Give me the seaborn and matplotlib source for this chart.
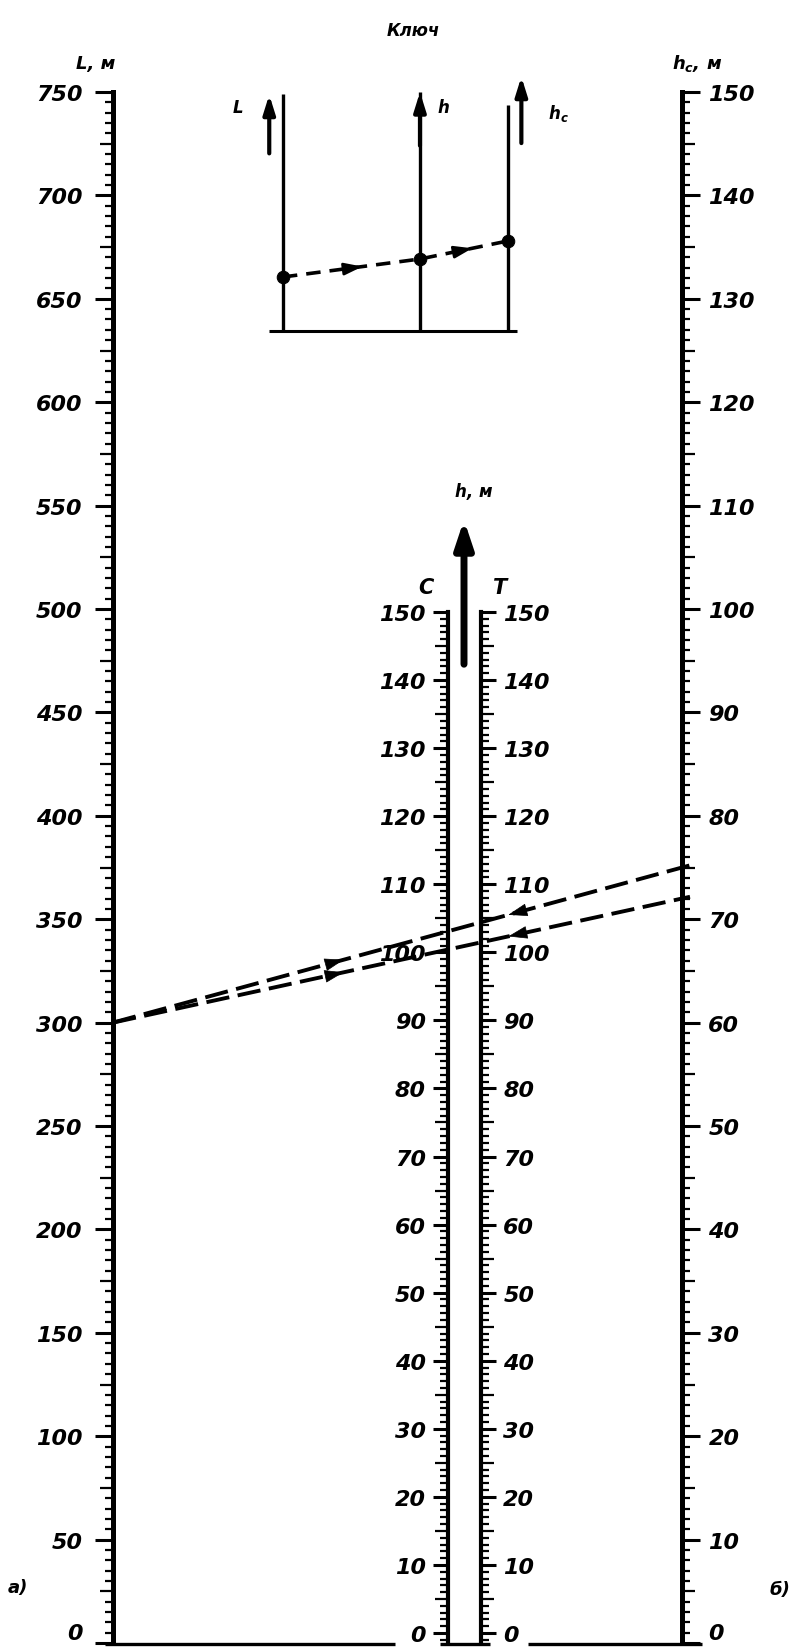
import matplotlib
matplotlib.use('Agg')
import matplotlib.pyplot as plt
import seaborn as sns
import pandas as pd
from matplotlib.ticker import FixedLocator, MultipleLocator

sns.set_style('white')
plt.rcParams['font.family'] = ['DejaVu Sans']
plt.rcParams['font.style'] = 'italic'
plt.rcParams['font.weight'] = 'bold'
plt.rcParams['text.color'] = 'black'

W, H = 797, 1649

# SCALES OF THE NOMOGRAM
L_ticks = list(range(0, 751, 50))      # left scale, L, m
hc_ticks = list(range(0, 151, 10))     # right scale, hc, m
h_ticks = list(range(0, 151, 10))      # middle scales C and T, h, m

# WORKED EXAMPLE: L = 300 m with two hc values
example_L = [300, 300]
example_hc = [75, 72]

# KEY SKETCH
key_names = ['L', 'h', 'h$_c$']
key_pos = [0.0, 1.0, 1.64]
key_pts = [0.21, 0.28, 0.35]
key_top = [0.92, 0.93, 0.88]

fig = plt.figure(figsize=(W / 100, H / 100), dpi=100)

# overlay in pixel units for text and connecting lines
ax0 = fig.add_axes([0, 0, 1, 1])
ax0.set_xlim(0, W)
ax0.set_ylim(H, 0)
ax0.axis('off')


def px_axes(x, top, bottom, width=0.5):
    return fig.add_axes([x / W, 1 - bottom / H, width / W, (bottom - top) / H])


def scale_axis(x, top, bottom, lim, major, minor, mid, side, lw=3.6, maj_len=13, pad=7):
    ax = px_axes(x if side == 'left' else x - 0.5, top, bottom)
    ax.set_ylim(*lim)
    ax.set_xticks([])
    ax.patch.set_visible(False)
    for s in ax.spines.values():
        s.set_visible(False)
    ax.spines[side].set_visible(True)
    ax.spines[side].set_linewidth(lw)
    ax.spines[side].set_color('k')
    ax.yaxis.set_ticks_position(side)
    ax.yaxis.set_major_locator(FixedLocator(major))
    ax.yaxis.set_minor_locator(MultipleLocator(minor))
    ax.tick_params(axis='y', which='major', direction='out', length=maj_len, width=2.2,
                   pad=pad, labelsize=16, colors='k')
    ax.tick_params(axis='y', which='minor', direction='out', length=6, width=1.6, colors='k')
    ax.set_yticklabels([str(v) for v in major])
    # medium ticks
    locs = ax.yaxis.get_minorticklocs()
    for loc, t in zip(locs, ax.yaxis.get_minor_ticks(len(locs))):
        if abs(loc % mid) < 1e-6 or abs(loc % mid - mid) < 1e-6:
            t.tick1line.set_markersize(9.5)
            t.tick2line.set_markersize(9.5)
    return ax


axL = scale_axis(113, 93, 1644, (0, 750), L_ticks, 5, 25, 'left', pad=9)
axR = scale_axis(682, 93, 1644, (0, 150), hc_ticks, 1, 5, 'right', pad=6)
axC = scale_axis(448, 613, 1644, (-1.47, 150), h_ticks, 1, 5, 'left', lw=3, maj_len=11, pad=5)
axT = scale_axis(481, 613, 1644, (-1.47, 150), h_ticks, 1, 5, 'right', lw=3, maj_len=11, pad=5)
for ax in (axL, axR):
    ax.get_yticklabels()[0].set_va('bottom')

# bottom base line
for x1, x2 in [(105, 395), (440, 490), (528, 702)]:
    ax0.plot([x1, x2], [1645, 1645], color='k', lw=2.4, solid_capstyle='butt')


def to_px(ax, xd, yd):
    return ax0.transData.inverted().transform(ax.transData.transform((xd, yd)))


# connecting lines of the example
for Lv, hv in zip(example_L, example_hc):
    p1 = to_px(axL, 0, Lv)
    p2 = to_px(axR, 1, hv)
    ax0.plot([p1[0], p2[0] + 8], [p1[1], p2[1] + 8 * (p2[1] - p1[1]) / (p2[0] - p1[0])],
             color='k', lw=2.8, ls=(0, (6, 2.2)))
    for f, d in [(0.41, 1), (0.69, -1)]:
        px = p1 + (p2 - p1) * f
        q = px - (p2 - p1) * 0.03 * d
        ax0.annotate('', xy=px, xytext=q,
                     arrowprops=dict(arrowstyle='-|>,head_width=0.3,head_length=0.9',
                                     color='k', lw=0.5, mutation_scale=14))

# middle arrow and labels
ax0.annotate('', xy=(464, 518), xytext=(464, 668),
             arrowprops=dict(arrowstyle='-|>,head_width=0.3,head_length=0.9',
                             color='k', lw=5, mutation_scale=18))
ax0.text(474, 492, 'h, м', ha='center', va='center', fontsize=12)
ax0.text(426, 588, 'С', ha='center', va='center', fontsize=15)
ax0.text(500, 588, 'Т', ha='center', va='center', fontsize=15)

# titles
ax0.text(413, 31, 'Ключ', ha='center', va='center', fontsize=12)
ax0.text(96, 64, 'L, м', ha='center', va='center', fontsize=13)
ax0.text(697, 64, 'h$_c$, м', ha='center', va='center', fontsize=13)
ax0.text(18, 1588, 'а)', ha='center', va='center', fontsize=13)
ax0.text(780, 1590, 'б)', ha='center', va='center', fontsize=13)

# KEY SKETCH
axK = fig.add_axes([265 / W, 1 - 335 / H, 265 / W, 265 / H])
axK.set_xlim(-0.131, 1.803)
axK.set_ylim(-0.0117, 1.019)
axK.axis('off')
axK.vlines(key_pos, 0, key_top, color='k', lw=2.4)
axK.hlines(0, key_pos[0] - 0.1, key_pos[-1] + 0.07, color='k', lw=2.2)
key_df = pd.DataFrame({'pos': key_pos, 'val': key_pts})
sns.lineplot(data=key_df, x='pos', y='val', ax=axK, color='k', lw=2.6,
             linestyle=(0, (4, 2.5)), marker='o', markersize=9, markeredgecolor='k')
for i in range(2):
    a, b = key_pos[i], key_pos[i + 1]
    xa = a + (b - a) * 0.55
    ya = key_pts[i] + (key_pts[i + 1] - key_pts[i]) * 0.55
    axK.annotate('', xy=(xa + 0.05, ya + 0.05 * (key_pts[i + 1] - key_pts[i]) / (b - a)),
                 xytext=(xa - 0.05, ya - 0.05 * (key_pts[i + 1] - key_pts[i]) / (b - a)),
                 arrowprops=dict(arrowstyle='-|>,head_width=0.3,head_length=0.9',
                                 color='k', lw=2, mutation_scale=12))
arrow_kw = dict(arrowstyle='-|>,head_width=0.25,head_length=0.8', color='k', lw=3, mutation_scale=14)
axK.annotate('', xy=(key_pos[0] - 0.1, 0.93), xytext=(key_pos[0] - 0.1, 0.68), arrowprops=arrow_kw)
axK.annotate('', xy=(key_pos[1], 0.94), xytext=(key_pos[1], 0.71), arrowprops=arrow_kw)
axK.annotate('', xy=(key_pos[2] + 0.1, 1.0), xytext=(key_pos[2] + 0.1, 0.72), arrowprops=arrow_kw)
axK.text(key_pos[0] - 0.33, 0.87, key_names[0], ha='center', va='center', fontsize=12)
axK.text(key_pos[1] + 0.17, 0.87, key_names[1], ha='center', va='center', fontsize=12)
axK.text(key_pos[2] + 0.37, 0.85, key_names[2], ha='center', va='center', fontsize=12)

fig.savefig('out.png', dpi=100)
